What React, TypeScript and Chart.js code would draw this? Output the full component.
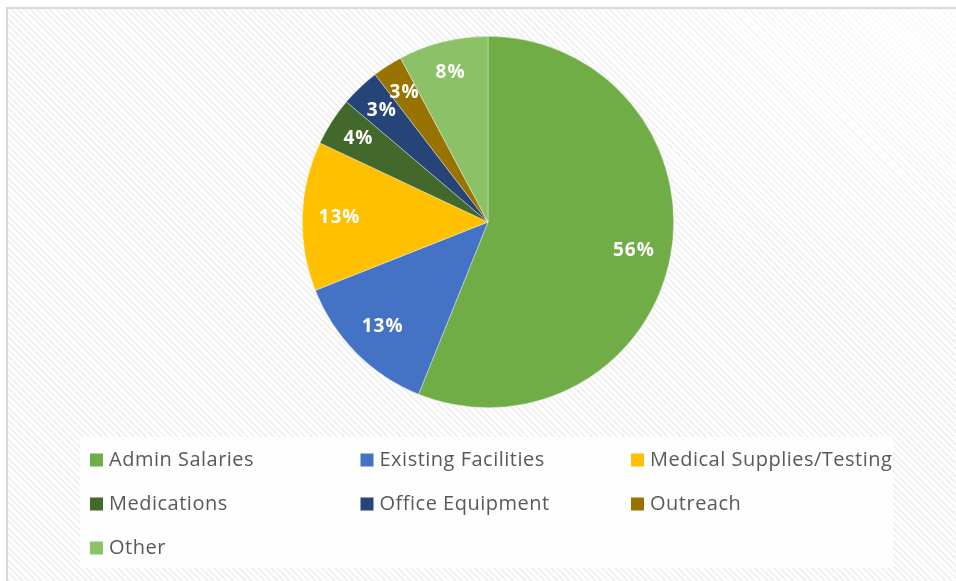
import React, { useEffect, useRef } from "react";
import { Chart, registerables } from "chart.js";

Chart.register(...registerables);

const categories = [
  "Admin Salaries",
  "Existing Facilities",
  "Medical Supplies/Testing",
  "Medications",
  "Office Equipment",
  "Outreach",
  "Other",
];
const values = [56.1, 12.9, 13.0, 4.2, 3.4, 2.6, 7.8];
const colors = ["#70AD47", "#4472C4", "#FFC000", "#43682B", "#264478", "#997300", "#8CC168"];

const W = 956;
const H = 581;
const FONT = "'Open Sans', Lato, sans-serif";

const labelPlugin = {
  id: "sliceLabels",
  afterDatasetsDraw(chart: any) {
    const ctx = chart.ctx;
    const meta = chart.getDatasetMeta(0);
    const data = chart.data.datasets[0].data as number[];
    const total = data.reduce((a, b) => a + b, 0);
    ctx.save();
    ctx.font = `bold 19px ${FONT}`;
    (ctx as any).letterSpacing = "1px";
    ctx.fillStyle = "#FFFFFF";
    ctx.textAlign = "center";
    ctx.textBaseline = "middle";
    meta.data.forEach((arc: any, i: number) => {
      const p = arc.getProps(["x", "y", "startAngle", "endAngle", "outerRadius"], true);
      const mid = (p.startAngle + p.endAngle) / 2;
      const r = p.outerRadius * (data[i] / total < 0.1 ? 0.83 : 0.8);
      const txt = Math.round((data[i] / total) * 100) + "%";
      ctx.fillText(txt, p.x + Math.cos(mid) * r, p.y + Math.sin(mid) * r);
    });
    ctx.restore();
  },
};

const legendPlugin = {
  id: "gridLegend",
  afterDraw(chart: any) {
    const ctx = chart.ctx;
    const labels = chart.data.labels as string[];
    const bg = chart.data.datasets[0].backgroundColor as string[];
    ctx.save();
    ctx.fillStyle = "rgba(255,255,255,0.82)";
    ctx.fillRect(80, 437, 813, 131);
    ctx.font = `20px ${FONT}`;
    (ctx as any).letterSpacing = "0.5px";
    ctx.textBaseline = "middle";
    ctx.textAlign = "left";
    labels.forEach((lab, i) => {
      const col = i % 3;
      const row = Math.floor(i / 3);
      const sx = 90 + col * 270.5;
      const cy = 460 + row * 44;
      ctx.fillStyle = bg[i];
      ctx.fillRect(sx, cy - 6.5, 13, 13);
      ctx.fillStyle = "#595959";
      ctx.fillText(lab, sx + 19, cy);
    });
    ctx.restore();
  },
};

export default function App() {
  const ref = useRef<HTMLCanvasElement | null>(null);

  useEffect(() => {
    if (!ref.current) return;
    const chart = new Chart(ref.current, {
      type: "pie",
      data: {
        labels: categories,
        datasets: [
          {
            data: values,
            backgroundColor: colors,
            borderColor: "rgba(255,255,255,0.6)",
            borderWidth: 0.6,
          },
        ],
      },
      options: {
        responsive: false,
        animation: false,
        layout: { padding: { top: 36, bottom: 173, left: 200, right: 180 } },
        plugins: {
          legend: { display: false },
          tooltip: { enabled: false },
        },
      },
      plugins: [labelPlugin, legendPlugin],
    });
    return () => chart.destroy();
  }, []);

  return (
    <div
      style={{
        position: "absolute",
        left: 0,
        top: 0,
        width: W,
        height: H,
        overflow: "hidden",
        background: "#FFFFFF",
      }}
    >
      <div
        style={{
          position: "absolute",
          left: 6,
          top: 7,
          width: W,
          height: H,
          border: "2px solid #D9D9D9",
          background:
            "radial-gradient(ellipse at 95% 5%, rgba(255,255,255,0.7), rgba(255,255,255,0) 35%), repeating-linear-gradient(45deg, #FFFFFF 0px, #FFFFFF 2.5px, #F1F1F1 2.5px, #F1F1F1 4.5px)",
        }}
      />
      <canvas ref={ref} width={W} height={H} style={{ position: "absolute", left: 0, top: 0 }} />
    </div>
  );
}
